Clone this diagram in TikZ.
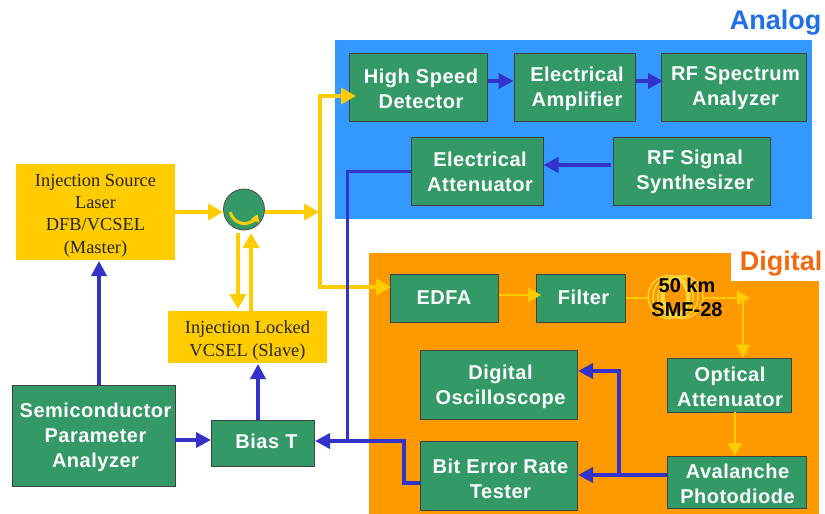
\documentclass[tikz,border=0pt]{standalone}
\usepackage{fontspec}
\setmainfont{Liberation Serif}
\newfontfamily\labelsans[LetterSpace=2.5]{Liberation Sans}
\newfontfamily\plainsans{Liberation Sans}
\usetikzlibrary{arrows.meta}
\definecolor{grn}{HTML}{339966}
\definecolor{ylw}{HTML}{FFCC00}
\definecolor{coil}{HTML}{FFD83A}
\definecolor{blu}{HTML}{3333CC}
\definecolor{skyb}{HTML}{3399FF}
\definecolor{org}{HTML}{FF9900}
\definecolor{dorg}{HTML}{F26A10}
\definecolor{anl}{HTML}{1F6FE8}
\tikzset{
 x=1pt,y=-1pt,
 gbox/.style={draw=black!75,line width=1pt,fill=grn,inner sep=0pt},
 gtext/.style={text=white,align=center,font=\labelsans\bfseries\fontsize{20}{25}\selectfont,inner sep=0pt},
 ybox/.style={fill=ylw,inner sep=0pt},
 ytext/.style={text=black!85,align=center,font=\fontsize{18.4}{22.3}\selectfont,inner sep=0pt},
 yarr/.style={draw=ylw,line width=3.6pt,-{Triangle[length=15pt,width=16pt]}},
 yarrt/.style={draw=ylw,line width=2.8pt,-{Triangle[length=13pt,width=14pt]}},
 barr/.style={draw=blu,line width=3.6pt,-{Triangle[length=15pt,width=15pt]}},
}
% kind, name, x1, x2, y1, y2, dx, dy, then text
\newcommand{\bx}[9]{\node[#1box,minimum width=#4-#3,minimum height=#6-#5,anchor=center] (#2) at ({(#3+#4)/2},{(#5+#6)/2}) {};
\node[#1text] (#2t) at ({(#3+#4)/2+#7},{(#5+#6)/2+#8}) {#9};}
\begin{document}
\begin{tikzpicture}
\useasboundingbox (0,0) rectangle (825,514);
\fill[white] (0,0) rectangle (825,514);
\fill[skyb] (335,40) rectangle (812,219);
\fill[org] (369,253) rectangle (819,514);
\fill[white] (731,240) rectangle (825,281);
\node[text=anl,font=\plainsans\bfseries\fontsize{27}{27}\selectfont,anchor=east] (analog) at (825,22.5) {Analog};
\node[text=dorg,font=\plainsans\bfseries\fontsize{27}{27}\selectfont,anchor=east] (digital) at (826,263.5) {Digital};
\bx{g}{hsd}{349}{487}{53}{121}{3}{1.5}{High Speed\\Detector}
\bx{g}{eamp}{514}{635}{53}{121}{2.5}{1.5}{Electrical\\Amplifier}
\bx{g}{rfsa}{661}{806}{53}{121}{2}{1.5}{RF Spectrum\\Analyzer}
\bx{g}{eatt}{411}{543}{137}{205}{3}{0.5}{Electrical\\Attenuator}
\bx{g}{rfss}{613}{770}{137}{205}{3.5}{0.5}{RF Signal\\Synthesizer}
\bx{g}{edfa}{390}{498}{274}{322}{0}{0}{EDFA}
\bx{g}{filt}{536}{625}{274}{322}{3}{-1}{Filter}
\bx{g}{oatt}{667}{791}{358}{412}{1}{2}{Optical\\Attenuator}
\bx{g}{apd}{667}{806}{456}{508}{1}{2}{Avalanche\\Photodiode}
\bx{g}{dso}{420}{577}{350}{419}{2}{2.5}{Digital\\Oscilloscope}
\bx{g}{bert}{420}{577}{441}{510}{2}{3.5}{Bit Error Rate\\Tester}
\bx{g}{biast}{211}{314}{420}{466}{4}{-2}{Bias T}
\bx{g}{spa}{12}{175}{385}{486}{2}{1.5}{Semiconductor\\Parameter\\Analyzer}
\bx{y}{src}{16}{175}{164}{260}{0}{3.5}{Injection Source\\Laser\\DFB/VCSEL\\(Master)}
\bx{y}{slave}{168}{327}{311}{363}{0}{3.5}{Injection Locked\\VCSEL (Slave)}
\node[circle,draw=black!70,fill=grn,line width=.8pt,minimum size=41pt,inner sep=0pt] (circ) at (244,209.5) {};
\draw[ylw,line width=3pt,-{Triangle[length=7pt,width=9pt]}] (230.5,212) arc[start angle=170,end angle=20,x radius=14,y radius=14];
% coil
\foreach \i in {0,1,2,3}{
 \draw[coil,line width=1.4pt] ({669+\i*2},297) ellipse[x radius={21-\i*3},y radius={21.5-\i*1.5}];
 \draw[coil,line width=1.4pt] ({682-\i*2},297) ellipse[x radius={21-\i*3},y radius={21.5-\i*1.5}];
}
\coordinate (cl) at (648,298);
\coordinate (cr) at (703,298);
\coordinate (ctip) at (750,298);
\coordinate (c1) at (223,212);
\coordinate (c2) at (265,212);
\coordinate (ybr) at (319,212);
\coordinate (cir1) at (238,233);
\coordinate (cir2) at (251,233);
\coordinate (sl1) at (238,309);
\coordinate (sl2) at (251,311);
\coordinate (jt) at (743,298);
\coordinate (ysrc) at (175,212);
\coordinate (yhsd) at (356,96);
\coordinate (yedfa) at (391,287);
% yellow
\draw[yarr] (ysrc) -- (c1);
\draw[yarr] (c2) -- (ybr);
\draw[yarr] (cir1) -- (sl1);
\draw[yarr] (sl2) -- (cir2);
\draw[yarr] (320,212) |- (yhsd);
\draw[yarr] (320,212) |- (yedfa);
\draw[yarrt] (edfa.east|-0,295) -- (541,295);
\draw[draw=ylw,line width=2.8pt] (filt.east|-0,298) -- (cl);
\draw[yarrt] (cr) -- (ctip);
\draw[yarrt] (jt) -- (jt|-oatt.north);
\draw[yarrt] (735,412) -- (735,456);
\node[font=\plainsans\bfseries\fontsize{20}{24}\selectfont,text=black,align=center] (fib) at (687,297) {50 km\\SMF-28};
% blue
\coordinate (bjoin) at (347,441);
\coordinate (dj) at (619,475);
\draw[barr] (hsd.east|-0,81) -- (eamp.west|-0,81);
\draw[barr] (eamp.east|-0,81) -- (663,81);
\draw[barr] (611,165) -- (eatt.east|-0,165);
\draw[barr] (99,385) -- (99,261);
\draw[barr] (175,440) -- (211,440);
\draw[barr] (258,420) -- (258,364);
\draw[blu,line width=3pt] (eatt.west|-0,171) -| (bjoin);
\draw[barr] (bert.west|-0,483) -| (404,441) -- (315,441);
\draw[barr] (apd.west|-0,475) -- (578,475);
\draw[barr] (dj) |- (578,371);
\end{tikzpicture}
\end{document}
